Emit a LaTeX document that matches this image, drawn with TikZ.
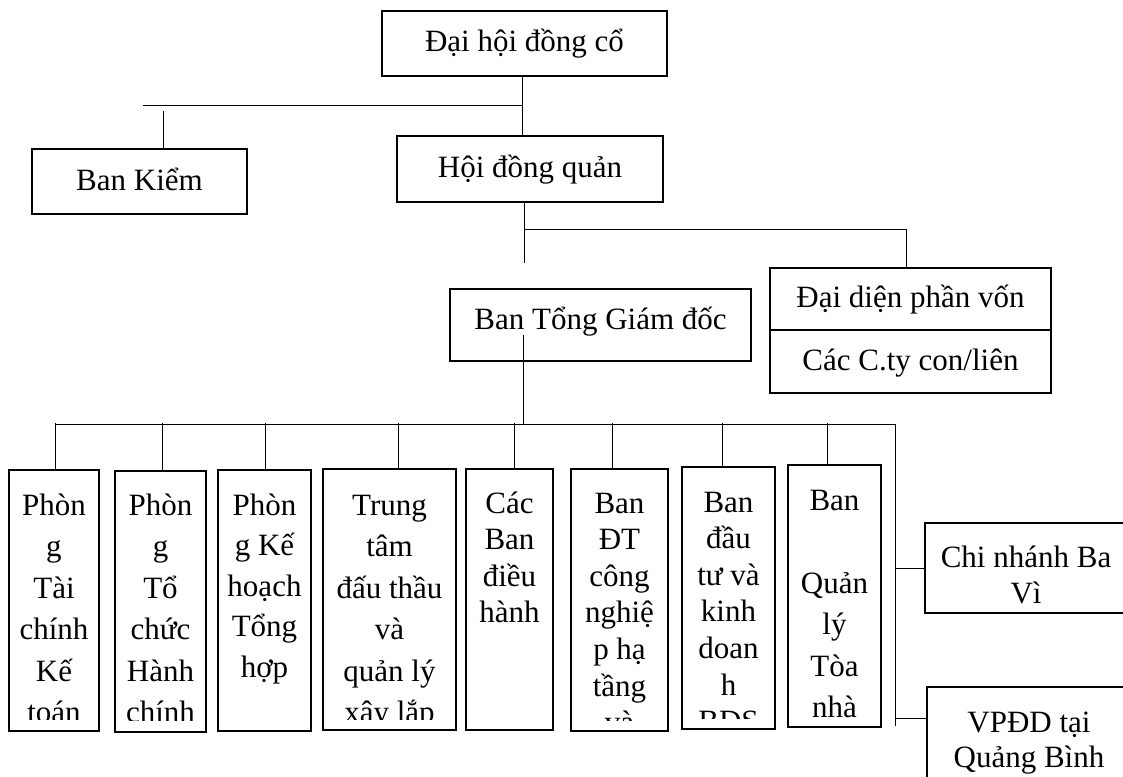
\documentclass[tikz,border=0pt]{standalone}
\usepackage{fontspec}
\setmainfont{Liberation Serif}

\newcommand{\coltxt}[1]{\parbox[t]{230pt}{\centering #1}}

\tikzset{
  box/.style={draw, line width=1.3pt, inner sep=0pt, text height=17pt, text depth=0pt,
    font=\fontsize{31}{36}\selectfont},
  col/.style={draw, line width=1.3pt, inner sep=0pt},
  coltext/.style={anchor=base, inner sep=0pt, font=\fontsize{31}{41.5}\selectfont},
  tight/.style={font=\fontsize{31}{36.6}\selectfont},
  link/.style={line width=1pt},
}

\begin{document}
\begin{tikzpicture}[x=1pt,y=-1pt]
  \useasboundingbox (0,0) rectangle (1123,776);
  \clip (0,0) rectangle (1123,776);
  \fill[white] (0,0) rectangle (1123,776);

  % upper levels
  \node[box, minimum width=285pt, minimum height=65pt] (dhdc) at (524.5,43.5) {Đại hội đồng cổ};
  \node[box, minimum width=215pt, minimum height=65pt] (bkiem) at (139.5,181.5) {Ban Kiểm};
  \node[box, minimum width=266pt, minimum height=66pt] (hdqt) at (530,169) {Hội đồng quản};
  \node[box, minimum width=301pt, minimum height=72pt, text height=8pt] (btgd) at (600.5,325) {Ban Tổng Giám đốc};
  \node[box, minimum width=281pt, minimum height=62pt] (dd) at (910.5,299) {Đại diện phần vốn};
  \node[box, minimum width=281pt, minimum height=63pt] (cty) at (910.5,361.5) {Các C.ty con/liên};

  \coordinate (j1) at (522,105);
  \draw[link] (dhdc.south -| j1) -- (hdqt.north -| j1);
  \draw[link] (j1) -- (143,105);
  \draw[link] ([xshift=23.5pt]bkiem.north) -- ++(0,-37);
  \coordinate (j2) at (524,229);
  \draw[link] (hdqt.south -| j2) -- ++(0,60);
  \draw[link] (j2) -| ([xshift=-4.5pt]dd.north);

  % departments
  \node[col, minimum width=90pt, minimum height=261pt] (c1) at (54,600.5) {};
  \node[col, minimum width=91pt, minimum height=261pt] (c2) at (160.5,601.5) {};
  \node[col, minimum width=93pt, minimum height=261pt] (c3) at (264.5,600.5) {};
  \node[col, minimum width=133pt, minimum height=261pt] (c4) at (389.5,599.5) {};
  \node[col, minimum width=87pt, minimum height=261pt] (c5) at (509.5,599.5) {};
  \node[col, minimum width=97pt, minimum height=262pt] (c6) at (619.5,600) {};
  \node[col, minimum width=93pt, minimum height=262pt] (c7) at (728.5,598) {};
  \node[col, minimum width=93pt, minimum height=262pt] (c8) at (834.5,596) {};
  \node[col, minimum width=202pt, minimum height=90pt] (cn) at (1026,568) {};
  \node[col, minimum width=200pt, minimum height=113pt] (vp) at (1027,743.5) {};

  \begin{scope}
    \clip (c1.north west) rectangle ([yshift=12pt]c1.south east);
    \node[coltext] (t1) at (54,515) {\coltxt{Phòn\\g\\Tài\\chính\\Kế\\toán}};
  \end{scope}
  \begin{scope}
    \clip (c2.north west) rectangle ([yshift=12pt]c2.south east);
    \node[coltext] (t2) at (160.5,515) {\coltxt{Phòn\\g\\Tổ\\chức\\Hành\\chính}};
  \end{scope}
  \begin{scope}
    \clip (c3.north west) rectangle ([yshift=12pt]c3.south east);
    \node[coltext, font=\fontsize{31}{40.5}\selectfont] (t3) at (264.5,515) {\coltxt{Phòn\\g Kế\\hoạch\\Tổng\\hợp}};
  \end{scope}
  \begin{scope}
    \clip (c4.north west) rectangle ([yshift=11pt]c4.south east);
    \node[coltext] (t4) at (389.5,515) {\coltxt{Trung\\tâm\\đấu thầu\\và\\quản lý\\xây lắp}};
  \end{scope}
  \begin{scope}
    \clip (c5.north west) rectangle ([yshift=11pt]c5.south east);
    \node[coltext, tight] (t5) at (509.5,513) {\coltxt{Các\\Ban\\điều\\hành}};
  \end{scope}
  \begin{scope}
    \clip (c6.north west) rectangle ([yshift=11pt]c6.south east);
    \node[coltext, tight] (t6) at (619.5,513) {\coltxt{Ban\\ĐT\\công\\nghiệ\\p hạ\\tầng\\và}};
  \end{scope}
  \begin{scope}
    \clip (c7.north west) rectangle ([yshift=11pt]c7.south east);
    \node[coltext, tight] (t7) at (728.5,512) {\coltxt{Ban\\đầu\\tư và\\kinh\\doan\\h\\BĐS}};
  \end{scope}
  \begin{scope}
    \clip (c8.north west) rectangle ([yshift=10pt]c8.south east);
    \node[coltext] (t8) at (834.5,510) {\coltxt{Ban\\\mbox{}\\Quản\\lý\\Tòa\\nhà}};
  \end{scope}
  \node[coltext, font=\fontsize{31}{36}\selectfont] (tcn) at (1026,567) {\coltxt{Chi nhánh Ba\\Vì}};
  \node[coltext, font=\fontsize{31}{35}\selectfont] (tvp) at (1029,732) {\coltxt{VPĐD tại\\Quảng Bình}};

  % connectors below
  \draw[link] ([xshift=-77.5pt, yshift=-10pt]btgd.center) -- ++(0,89);
  \coordinate (bus) at (55,424);
  \draw[link] (bus) -- (895,424) -- (895,726);
  \foreach \n/\dx/\len in {c1/1/46, c2/1.5/47, c3/0.5/46, c4/8.5/45, c5/4.5/45, c6/-7.5/45, c7/-6.5/43, c8/-7.5/41}
    \draw[link] ([xshift=\dx pt]\n.north) -- ++(0,-\len);
  \draw[link] (895,568) -- (cn.west);
  \coordinate (j3) at (895,718);
  \draw[link] (j3) -- (j3 -| vp.west);
\end{tikzpicture}
\end{document}
